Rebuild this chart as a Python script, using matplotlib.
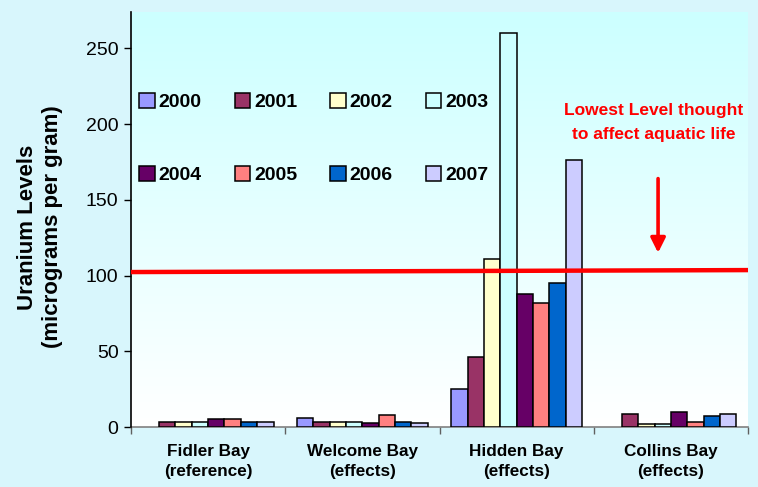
import numpy as np
import matplotlib
matplotlib.use("Agg")
import matplotlib.pyplot as plt
from matplotlib.colors import LinearSegmentedColormap

plt.rcParams['font.family'] = ['Liberation Sans', 'DejaVu Sans']

# ---- data ----
sites = ["Fidler Bay\n(reference)", "Welcome Bay\n(effects)",
         "Hidden Bay\n(effects)", "Collins Bay\n(effects)"]
years = ["2000", "2001", "2002", "2003", "2004", "2005", "2006", "2007"]
nan = np.nan
fidler = [nan, 3.5, 3.5, 3.5, 5, 5, 3.5, 3.5]
welcome = [6, 3.5, 3.5, 3.5, 2.5, 7.7, 3.5, 2.5]
hidden = [25, 46, 111, 260, 88, 82, 95, 176]
collins = [nan, 8.6, 2.2, 2.2, 9.7, 3.5, 7.5, 8.6]
threshold_ends = [102.3, 103.6]

year_colors = ["#9999FF", "#993366", "#FFFFCC", "#CCFFFF",
               "#660066", "#FF8080", "#0066CC", "#CCCCFF"]

values = np.array([fidler, welcome, hidden, collins])  # sites x years

fig = plt.figure(figsize=(7.58, 4.87), dpi=100)
fig.patch.set_facecolor("#D8F6FC")
ax = fig.add_axes([131 / 758, 1 - 427 / 487, 617 / 758, 415 / 487])
ax.patch.set_visible(False)

ymax = 274
ax.set_xlim(-0.5, 3.5)
ax.set_ylim(0, ymax)

# vertical gradient background in the plot area
grad = LinearSegmentedColormap.from_list("bg", ["#FFFFFF", "#CCFFFF"])
ax.imshow(np.linspace(0, 1, 256).reshape(-1, 1), cmap=grad, origin="lower",
          extent=[-0.5, 3.5, 0, ymax], aspect="auto", zorder=0)

x = np.arange(len(sites))
w = 0.106
bars = []
for i, (yr, col) in enumerate(zip(years, year_colors)):
    b = ax.bar(x + (i - 3.5) * w, values[:, i], width=w, color=col,
               edgecolor="black", linewidth=1.1, label=yr, zorder=3)
    bars.append(b)

# threshold line
ax.plot([-0.5, 3.5], threshold_ends, color="#FF0000", lw=3.2,
        zorder=4, clip_on=False, solid_capstyle="butt")

ax.text(2.89, 201, "Lowest Level thought\nto affect aquatic life",
        color="#FF0000", fontsize=12.5, fontweight="bold", ha="center",
        va="center", linespacing=1.7, zorder=5)
ax.annotate("", xy=(2.917, 115), xytext=(2.917, 164),
            arrowprops=dict(arrowstyle="-|>", color="#FF0000", lw=2.6,
                            mutation_scale=22, shrinkA=0, shrinkB=0),
            zorder=5)

# axes styling
for s in ["top", "right"]:
    ax.spines[s].set_visible(False)
ax.spines["left"].set_color("black")
ax.spines["left"].set_linewidth(1.2)
ax.spines["bottom"].set_color("#808080")
ax.spines["bottom"].set_linewidth(1.2)
ax.spines["bottom"].set_zorder(2)

ax.set_yticks(np.arange(0, 251, 50))
ax.tick_params(axis="y", direction="out", length=5, width=1, color="black",
               labelsize=14, pad=4)
ax.set_xticks(x)
ax.set_xticklabels(sites, fontsize=12.3, fontweight="bold", linespacing=1.45)
ax.tick_params(axis="x", which="major", length=0, pad=12)
ax.set_xticks(np.arange(-0.5, 3.6, 1), minor=True)
ax.tick_params(axis="x", which="minor", direction="out", length=5,
               width=1, color="#606060")

fig.text(40 / 758, 1 - 227 / 487, "Uranium Levels\n(micrograms per gram)",
         rotation=90, ha="center", va="center", fontsize=16,
         fontweight="bold", linespacing=1.3)

# legend laid out row by row (matplotlib fills columns first)
order = [0, 4, 1, 5, 2, 6, 3, 7]
leg = ax.legend([bars[k] for k in order], [years[k] for k in order],
                ncol=4, loc="upper left",
                bbox_to_anchor=(139 / 758, 1 - 93 / 487),
                bbox_transform=fig.transFigure, frameon=False,
                prop=dict(size=14, weight="bold"), handlelength=0.8,
                handleheight=0.8, handletextpad=0.2, columnspacing=1.7,
                labelspacing=2.8, borderpad=0, borderaxespad=0)
leg.set_zorder(6)

fig.savefig("out.png", dpi=100, facecolor=fig.get_facecolor())
